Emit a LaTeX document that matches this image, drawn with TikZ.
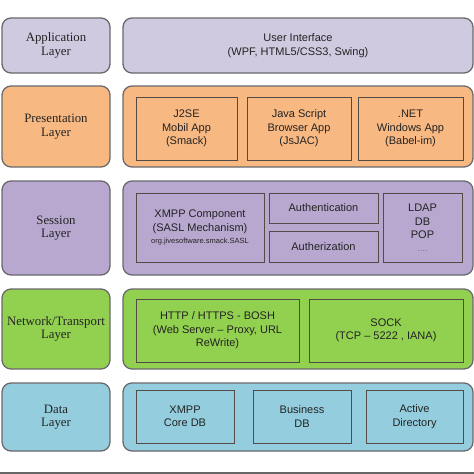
\documentclass[tikz,border=0pt]{standalone}
\usepackage{fontspec}
\setmainfont{Liberation Serif}
\setsansfont{Liberation Sans}
\definecolor{appc}{RGB}{208,202,224}
\definecolor{prec}{RGB}{248,184,130}
\definecolor{sesc}{RGB}{184,168,208}
\definecolor{netc}{RGB}{146,208,80}
\definecolor{datc}{RGB}{148,205,221}
\definecolor{bordc}{RGB}{105,105,110}
\definecolor{innerb}{RGB}{85,75,70}
\definecolor{txt}{RGB}{35,35,35}
\definecolor{dotc}{RGB}{120,110,130}
\begin{document}
\begin{tikzpicture}[x=1pt,y=-1pt,
  layerbox/.style={draw=bordc,line width=1.3pt,rounded corners=9pt,inner sep=0pt,
    font=\rmfamily\fontsize{12.8}{13.5}\selectfont,text=txt,align=center},
  outerbox/.style={draw=bordc,line width=1.3pt,rounded corners=9pt,inner sep=0pt,
    font=\sffamily\fontsize{11}{14}\selectfont,text=txt,align=center},
  innerbox/.style={draw=innerb,line width=0.9pt,inner sep=0pt,
    font=\sffamily\fontsize{11}{13.5}\selectfont,text=txt,align=center}]
\useasboundingbox (0,0) rectangle (474,474);
\fill[white] (0,0) rectangle (474,474);
\fill[black!60] (0,472) rectangle (474,474);
% Application
\node[layerbox,fill=appc,minimum width=108pt,minimum height=55pt] (appL) at (56,45.5) {Application\\Layer};
\node[outerbox,fill=appc,minimum width=350pt,minimum height=55pt] (appR) at (298,45.5) {User Interface\\(WPF, HTML5/CSS3, Swing)};
% Presentation
\node[layerbox,fill=prec,minimum width=108pt,minimum height=81pt] (preL) at (56,126.5) {Presentation\\Layer};
\node[outerbox,fill=prec,minimum width=350pt,minimum height=81pt] (preR) at (298,126.5) {};
\node[innerbox,minimum width=101pt,minimum height=63pt] (j2se) at (186.5,128.5) {J2SE\\Mobil App\\(Smack)};
\node[innerbox,minimum width=104pt,minimum height=63pt] (jsapp) at (299,128.5) {Java Script\\Browser App\\(JsJAC)};
\node[innerbox,minimum width=105pt,minimum height=63pt] (net) at (410.5,128.5) {.NET\\Windows App\\(Babel-im)};
% Session
\node[layerbox,fill=sesc,minimum width=108pt,minimum height=94pt] (sesL) at (56,228) {Session\\Layer};
\node[outerbox,fill=sesc,minimum width=350pt,minimum height=94pt] (sesR) at (298,228) {};
\node[innerbox,minimum width=128pt,minimum height=69pt] (xmppc) at (200,227.5) {XMPP Component\\(SASL Mechanism)\\[-1pt]{\fontsize{7.5}{9}\selectfont org.jivesoftware.smack.SASL}};
\node[innerbox,minimum width=109pt,minimum height=30pt] (authn) at (323.5,208) {Authentication};
\node[innerbox,minimum width=109pt,minimum height=31pt] (authz) at (323.5,246.5) {Autherization};
\node[innerbox,minimum width=79pt,minimum height=69pt] (ldap) at (422.5,227.5) {LDAP\\DB\\POP\\[-1pt]\textcolor{dotc}{\fontsize{9}{10}\selectfont ....}};
% Network
\node[layerbox,fill=netc,minimum width=108pt,minimum height=80pt] (netL) at (56,329) {Network/Transport\\Layer};
\node[outerbox,fill=netc,minimum width=350pt,minimum height=80pt] (netR) at (298,329) {};
\node[innerbox,minimum width=163pt,minimum height=63pt] (http) at (217.5,330.5) {HTTP / HTTPS - BOSH\\(Web Server -- Proxy, URL\\ReWrite)};
\node[innerbox,minimum width=154pt,minimum height=63pt] (sock) at (386,330.5) {SOCK\\(TCP -- 5222 , IANA)};
% Data
\node[layerbox,fill=datc,minimum width=108pt,minimum height=68pt] (datL) at (56,417) {Data\\Layer};
\node[outerbox,fill=datc,minimum width=350pt,minimum height=68pt] (datR) at (298,417) {};
\node[innerbox,minimum width=98pt,minimum height=53pt] (xmppdb) at (185,416.5) {XMPP\\Core DB};
\node[innerbox,minimum width=98pt,minimum height=53pt] (busdb) at (302,416.5) {Business\\DB};
\node[innerbox,minimum width=97pt,minimum height=53pt] (active) at (414.5,416.5) {Active\\Directory};
\end{tikzpicture}
\end{document}
